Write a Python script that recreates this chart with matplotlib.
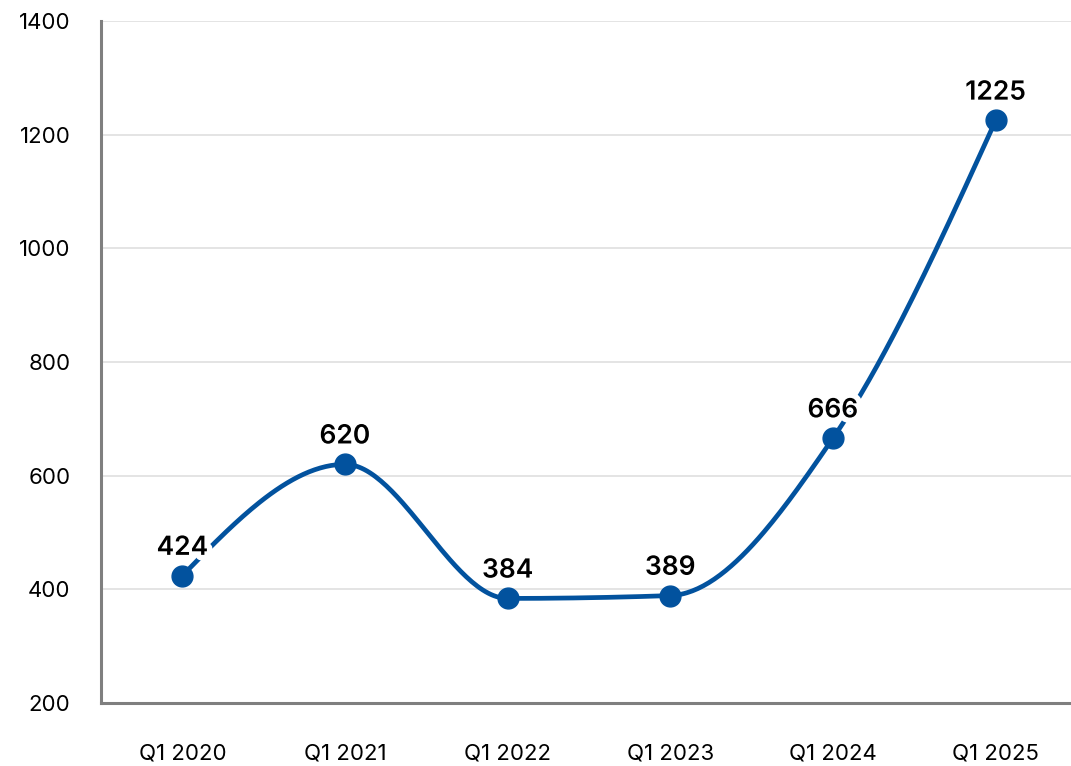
import numpy as np
import matplotlib
matplotlib.use("Agg")
import matplotlib.pyplot as plt
import matplotlib.patheffects as pe

quarters = ["Q1 2020", "Q1 2021", "Q1 2022", "Q1 2023", "Q1 2024", "Q1 2025"]
values = [424, 620, 384, 389, 666, 1225]
y_ticks = [200, 400, 600, 800, 1000, 1200, 1400]

LINE_COLOR = "#02529e"
plt.rcParams["font.family"] = ["Inter", "DejaVu Sans"]


def monotone_tangents(x, y):
    """Tangents for a monotone cubic (same rule as d3.curveMonotoneX)."""
    x = np.asarray(x, float)
    y = np.asarray(y, float)
    n = len(x)
    h = np.diff(x)
    s = np.diff(y) / h
    t = np.zeros(n)
    for i in range(1, n - 1):
        p = (s[i - 1] * h[i] + s[i] * h[i - 1]) / (h[i - 1] + h[i])
        t[i] = (np.sign(s[i - 1]) + np.sign(s[i])) * min(abs(s[i - 1]), abs(s[i]), 0.5 * abs(p))
    t[0] = (3 * s[0] - t[1]) / 2
    t[-1] = (3 * s[-1] - t[-2]) / 2
    return t


def smooth_curve(x, y, steps=60):
    x = np.asarray(x, float)
    y = np.asarray(y, float)
    t = monotone_tangents(x, y)
    xs, ys = [], []
    for i in range(len(x) - 1):
        h = x[i + 1] - x[i]
        u = np.linspace(0, 1, steps)
        h00 = 2 * u**3 - 3 * u**2 + 1
        h10 = u**3 - 2 * u**2 + u
        h01 = -2 * u**3 + 3 * u**2
        h11 = u**3 - u**2
        xs.append(x[i] + u * h)
        ys.append(h00 * y[i] + h10 * h * t[i] + h01 * y[i + 1] + h11 * h * t[i + 1])
    return np.concatenate(xs), np.concatenate(ys)


xpos = np.arange(len(quarters))

fig = plt.figure(figsize=(10.71, 7.66), dpi=100)
ax = fig.add_axes([101 / 1071, 1 - 703 / 766, (1077 - 101) / 1071, (703 - 21) / 766])

cx, cy = smooth_curve(xpos, values)
ax.plot(cx, cy, color=LINE_COLOR, lw=3.4, solid_capstyle="round", zorder=3)
ax.plot(xpos, values, "o", color=LINE_COLOR, ms=15, zorder=4)

for xi, v in zip(xpos, values):
    ax.annotate(str(v), (xi, v), xytext=(0, 15), textcoords="offset points",
                ha="center", va="baseline", fontsize=19, fontweight="semibold",
                color="black", zorder=5,
                path_effects=[pe.withStroke(linewidth=8, foreground="white")])

ax.set_xlim(-0.5, len(quarters) - 0.5)
ax.set_ylim(200, 1400)
ax.set_xticks(xpos)
ax.set_xticklabels(quarters)
ax.set_yticks(y_ticks)
ax.tick_params(axis="both", length=0, labelsize=16, colors="black")
ax.tick_params(axis="y", pad=22)
ax.tick_params(axis="x", pad=29)

ax.grid(axis="y", color="#e2e2e2", lw=1.3, zorder=0)
ax.set_axisbelow(True)
for side in ("top", "right"):
    ax.spines[side].set_visible(False)
for side in ("left", "bottom"):
    ax.spines[side].set_color("#7f7f7f")
    ax.spines[side].set_linewidth(2.2)

fig.savefig("out.png", dpi=100)
